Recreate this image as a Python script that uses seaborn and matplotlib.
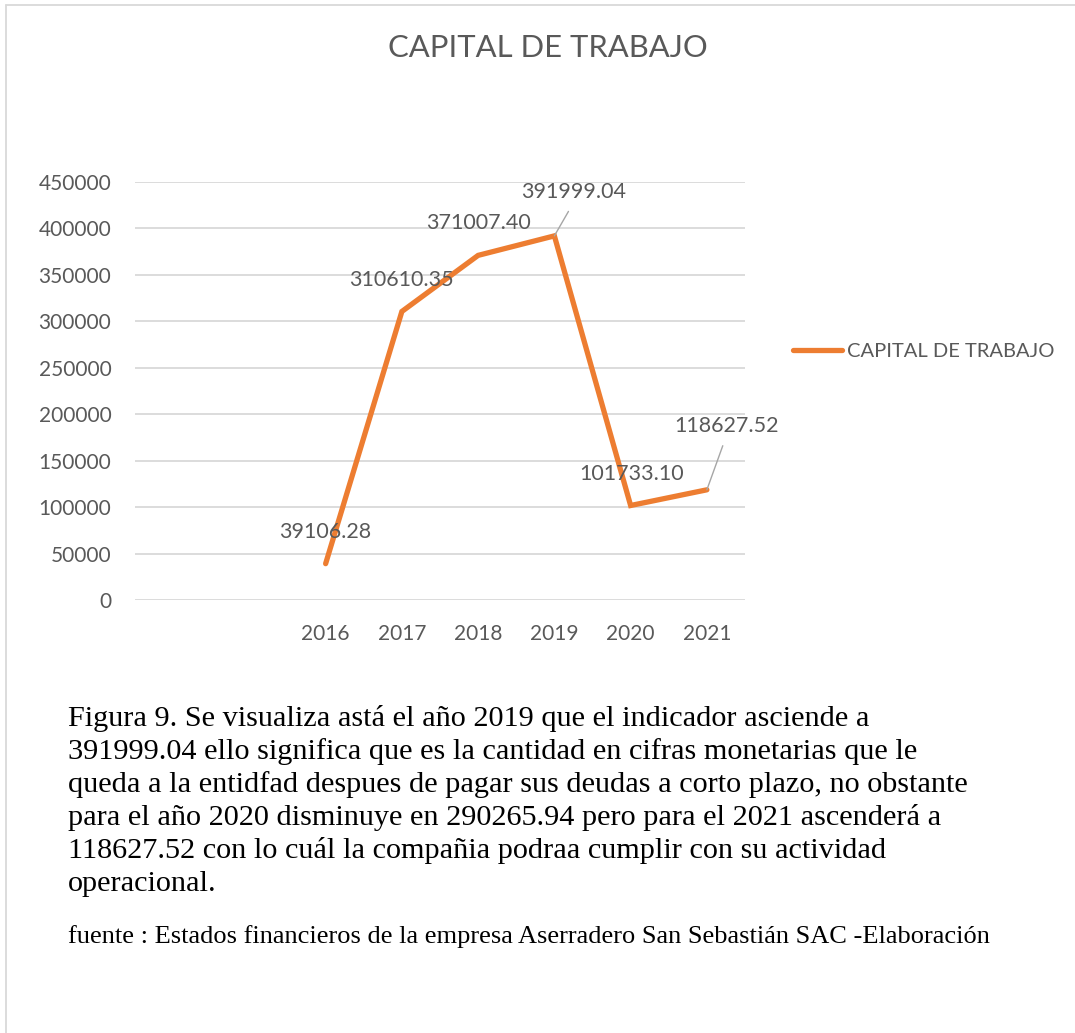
import matplotlib
matplotlib.use("Agg")
import matplotlib.pyplot as plt
import seaborn as sns
import pandas as pd
from matplotlib.lines import Line2D

# ---- data ----
years = [2016, 2017, 2018, 2019, 2020, 2021]
values = [39106.28, 310610.35, 371007.40, 391999.04, 101733.10, 118627.52]
value_labels = ["39106.28", "310610.35", "371007.40", "391999.04", "101733.10", "118627.52"]
series_name = "CAPITAL DE TRABAJO"
title = "CAPITAL DE TRABAJO"
yticks = [0, 50000, 100000, 150000, 200000, 250000, 300000, 350000, 400000, 450000]
caption_lines = [
    "Figura 9. Se visualiza astá el año 2019 que el indicador asciende a",
    "391999.04 ello significa que es la cantidad en cifras monetarias que le",
    "queda a la entidfad despues de pagar sus deudas a corto plazo, no obstante",
    "para el año 2020 disminuye en 290265.94 pero para el 2021 ascenderá a",
    "118627.52 con lo cuál la compañia podraa cumplir con su actividad",
    "operacional.",
]
footer = "fuente : Estados financieros de la empresa Aserradero San Sebastián SAC -Elaboración"

df = pd.DataFrame({"year": years, "value": values})

sns.set_theme(style="white")
plt.rcParams["font.family"] = ["Lato", "DejaVu Sans"]

W, H = 1075, 1033
fig = plt.figure(figsize=(W / 100, H / 100), dpi=100)
fig.patch.set_facecolor("white")

ax = fig.add_axes([135 / W, 1 - 600 / H, (745 - 135) / W, (600 - 182) / H])

orange = "#ED7D31"
grey_txt = "#595959"

sns.lineplot(data=df, x="year", y="value", ax=ax, color=orange, linewidth=3.8,
             label=series_name, legend=False, solid_capstyle="round",
             solid_joinstyle="miter")

ax.set_xlim(2013.5, 2021.5)
ax.set_ylim(0, 450000)
ax.set_yticks(yticks)
ax.set_yticklabels([str(t) for t in yticks])
ax.set_xticks(years)
ax.set_xticklabels([str(y) for y in years])
ax.grid(axis="y", color="#d9d9d9", linewidth=1.3)
ax.grid(axis="x", visible=False)
ax.set_axisbelow(True)
for s in ax.spines.values():
    s.set_visible(False)
ax.tick_params(axis="both", length=0, labelsize=15, labelcolor=grey_txt)
ax.tick_params(axis="y", pad=17)
ax.tick_params(axis="x", pad=17.5)
ax.set_xlabel("")
ax.set_ylabel("")

# data labels (offsets in points)
offsets = [(0, 23), (0, 22.5), (0.5, 23), (14, 31.5), (1, 23), (14, 46)]
leaders = [False, False, False, True, False, True]
for x, v, lab, (dx, dy), ld in zip(years, values, value_labels, offsets, leaders):
    kw = {}
    if ld:
        kw["arrowprops"] = dict(arrowstyle="-", color="#a6a6a6", lw=1.0,
                                shrinkA=5, shrinkB=0, relpos=(0.5, 0.0))
    ax.annotate(lab, xy=(x, v), xytext=(dx, dy), textcoords="offset points",
                ha="center", va="center", fontsize=15.5, color=grey_txt, **kw)

# title
fig.text(548 / W, 1 - 48 / H, title, ha="center", va="center",
         fontsize=22.3, color=grey_txt)

# legend
handle = Line2D([], [], color=orange, linewidth=3.8, solid_capstyle="round")
fig.legend([handle], [series_name], loc="center left",
           bbox_to_anchor=(793 / W, 1 - 351 / H), frameon=False,
           fontsize=14.5, labelcolor=grey_txt, handlelength=2.45,
           handletextpad=0.25, borderpad=0, borderaxespad=0)

# caption
y0 = 718
for i, line in enumerate(caption_lines):
    fig.text(68 / W, 1 - (y0 + 33.2 * i) / H, line, ha="left", va="center",
             fontsize=21.8, family=["Liberation Serif", "DejaVu Serif"], color="black")
fig.text(68 / W, 1 - 937 / H, footer, ha="left", va="center",
         fontsize=19, family=["Liberation Serif", "DejaVu Serif"], color="black")

# frame lines (top and left)
fig.add_artist(Line2D([6 / W, 1.0], [1 - 5 / H, 1 - 5 / H], transform=fig.transFigure,
                      color="#d9d9d9", linewidth=1.3))
fig.add_artist(Line2D([6 / W, 6 / W], [1 - 5 / H, 0.0], transform=fig.transFigure,
                      color="#d9d9d9", linewidth=1.3))

fig.savefig("out.png", dpi=100, facecolor="white")
